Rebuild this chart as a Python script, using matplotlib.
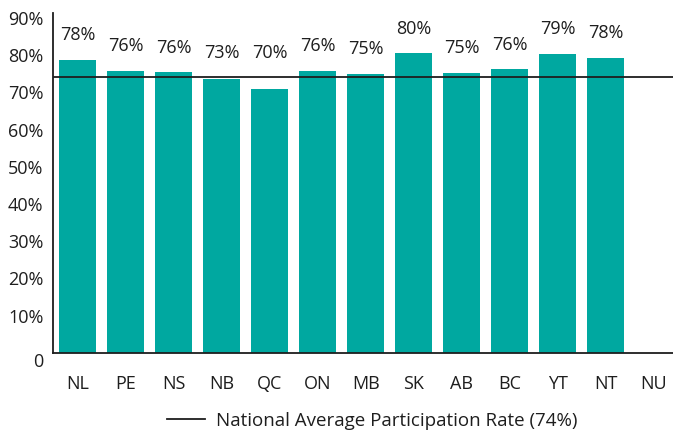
import matplotlib.pyplot as plt
import matplotlib.transforms as mtransforms
import numpy as np

plt.rcParams['font.family'] = ['Open Sans', 'DejaVu Sans']

provinces = ['NL', 'PE', 'NS', 'NB', 'QC', 'ON', 'MB', 'SK', 'AB', 'BC', 'YT', 'NT', 'NU']
# bar heights as drawn (NU has no bar)
rates = [78.8, 75.8, 75.5, 73.7, 71.0, 75.8, 75.0, 80.6, 75.3, 76.3, 80.4, 79.3, np.nan]
# values printed above the bars
shown = ['78%', '76%', '76%', '73%', '70%', '76%', '75%', '80%', '75%', '76%', '79%', '78%', '']
national_avg = 74
yticks = [0, 10, 20, 30, 40, 50, 60, 70, 80, 90]
yticklabels = ['0', '10%', '20%', '30%', '40%', '50%', '60%', '70%', '80%', '90%']

teal = '#00A8A0'
ink = '#1E1E1E'

fig = plt.figure(figsize=(6.73, 4.33), dpi=100)
ax = fig.add_axes([0.0788, 0.185, 0.9212, 0.785])

x = np.arange(len(provinces))
ax.bar(x, rates, width=0.77, color=teal, zorder=2)
ax.axhline(national_avg, color=ink, lw=1.3, zorder=3,
           label='National Average Participation Rate (74%)')

# labels sit above the bar or the average line, whichever is higher
for xi, v, s in zip(x, rates, shown):
    if not s:
        continue
    ax.annotate(s, (xi, max(v, national_avg)), xytext=(0, 17.5),
                textcoords='offset points', ha='center', va='center',
                fontsize=13, color=ink)

ax.set_xlim(-0.51, 12.4)
ax.set_ylim(0, 91.3)
ax.set_xticks(x)
ax.set_xticklabels(provinces, fontsize=13, color=ink)
ax.set_yticks(yticks)
ax.set_yticklabels(yticklabels, fontsize=13, color=ink)
ax.tick_params(axis='x', length=0, pad=16)
ax.tick_params(axis='y', length=0, pad=7)

# the "0" label sits a little below the axis line in the original
zero = ax.get_yticklabels()[0]
zero.set_transform(zero.get_transform() +
                   mtransforms.ScaledTranslation(0, -7 / 100, fig.dpi_scale_trans))

for side in ['top', 'right']:
    ax.spines[side].set_visible(False)
for side in ['left', 'bottom']:
    ax.spines[side].set_color(ink)
    ax.spines[side].set_linewidth(1.3)

fig.legend(loc='center', bbox_to_anchor=(0.553, 0.028), frameon=False,
           fontsize=13.5, handlelength=2.0, handletextpad=0.6,
           labelcolor=ink)

fig.savefig('out.png', dpi=100)
